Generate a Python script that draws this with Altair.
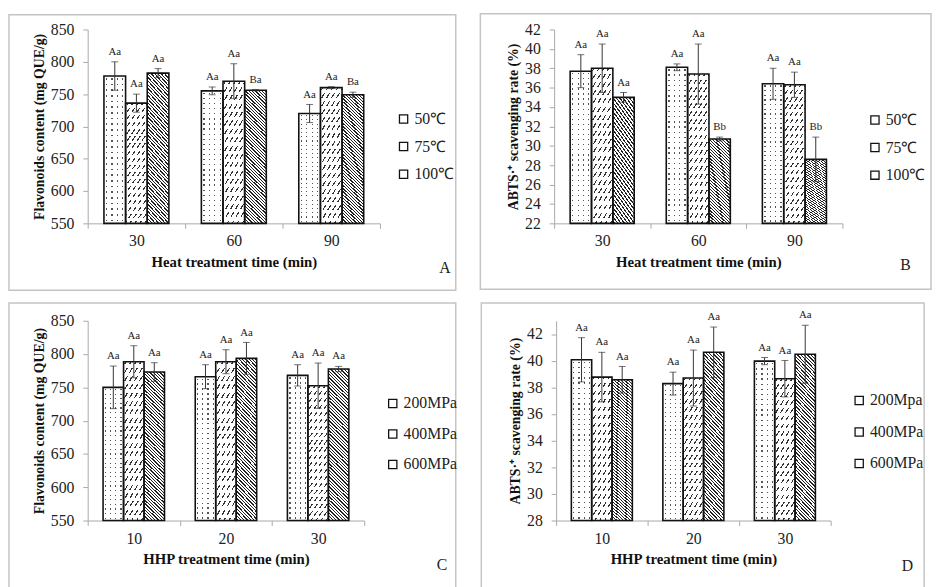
import altair as alt
import pandas as pd

SERIF = "'Liberation Serif', 'Times New Roman', serif"
CLEAR = "rgba(255,255,255,0)"

# ---------------- data ----------------
times_heat = ["30", "60", "90"]
times_hhp = ["10", "20", "30"]
temps = ["50℃", "75℃", "100℃"]
press_c = ["200MPa", "400MPa", "600MPa"]
press_d = ["200Mpa", "400MPa", "600MPa"]

# values are listed group by group (time), series in legend order
a_mean = [778, 736, 782.5, 755, 770, 756, 720, 760, 749]
a_err = [22, 14, 7, 6, 27, 1, 14, 1.5, 4]
a_lab = ["Aa", "Aa", "Aa", "Aa", "Aa", "Ba", "Aa", "Aa", "Ba"]

b_mean = [37.7, 38.0, 35.0, 38.1, 37.4, 30.7, 36.4, 36.3, 28.6]
b_err = [1.7, 2.5, 0.5, 0.35, 3.1, 0.2, 1.6, 1.3, 2.3]
b_lab = ["Aa", "Aa", "Aa", "Aa", "Aa", "Bb", "Aa", "Aa", "Bb"]

c_mean = [750, 788.5, 773, 766, 788.5, 793.5, 768, 752.5, 777.5]
c_err = [32, 24, 14, 18, 18, 24, 16, 34, 4]
c_lab = ["Aa"] * 9

d_mean = [40.07, 38.77, 38.57, 38.28, 38.7, 40.63, 39.97, 38.65, 40.48]
d_err = [1.66, 1.86, 1.0, 0.86, 2.1, 1.9, 0.27, 1.37, 2.18]
d_lab = ["Aa"] * 9


# ---------------- pattern fills (gradients used as hatching) ----------------
def band_stops(n, frac, on, off):
    stops = [{"offset": 0, "color": off}]
    for i in range(n):
        lo = round((i + 0.5 - frac / 2) / n, 5)
        hi = round((i + 0.5 + frac / 2) / n, 5)
        stops += [{"offset": lo, "color": off}, {"offset": lo, "color": on},
                  {"offset": hi, "color": on}, {"offset": hi, "color": off}]
    stops.append({"offset": 1, "color": off})
    return stops


def grad(x1, y1, x2, y2, stops):
    return {"gradient": "linear", "x1": round(x1, 5), "y1": round(y1, 5),
            "x2": round(x2, 5), "y2": round(y2, 5), "stops": stops}


def diag(h, w, slope, hsp, frac, color, back=False):
    a = slope * w / h
    k = (1 + a) / (1 + a * a)
    n = max(1, round(h * (1 + a) / (hsp * slope)))
    st = band_stops(n, frac, color, "white")
    if back:
        return grad(1, 0, 1 - a * k, k, st)
    return grad(0, 0, a * k, k, st)


def fills_for(idx, h, w):
    if idx == 0:  # dotted
        return [grad(0, 0, 1, 0, band_stops(4, 0.22, "#555555", "white")),
                grad(0, 0, 0, 1, band_stops(max(1, round(h / 5)), 0.26, CLEAR, "white"))]
    if idx == 1:  # short forward hatch in rows
        return [diag(h, w, 1.6, 5.0, 0.26, "#333333"),
                grad(0, 0, 0, 1, band_stops(max(1, round(h / 8)), 0.4, "white", CLEAR))]
    return [diag(h, w, 1.0, 3.4, 0.4, "#222222", back=True)]


def panel(times, series, means, errs, labs, ymin, ymax, yvals, W, H,
          ytitle, xtitle, letter, box, leg, letter_xy):
    rows = []
    for gi, t in enumerate(times):
        for si, s in enumerate(series):
            k = gi * 3 + si
            rows.append(dict(time=t, series=s, mean=means[k],
                             lo=means[k] - errs[k], hi=means[k] + errs[k], label=labs[k]))
    df = pd.DataFrame(rows)
    base = alt.Chart(df)
    bw = W / 3 / 4.5

    xax = alt.Axis(title=xtitle, labelAngle=0, tickBand="extent", tickSize=5,
                   domainColor="#a8a8a8", tickColor="#a8a8a8", labelFont=SERIF,
                   labelFontSize=16, labelColor="#222222", labelPadding=5,
                   titleFont=SERIF, titleFontSize=15, titleFontWeight="bold",
                   titleColor="#111111", titlePadding=6)
    yax = alt.Axis(title=ytitle, values=yvals, tickSize=5, grid=False,
                   domainColor="#a8a8a8", tickColor="#a8a8a8", labelFont=SERIF,
                   labelFontSize=16, labelColor="#222222", labelPadding=9,
                   titleFont=SERIF, titleFontSize=14, titleFontWeight="bold",
                   titleColor="#111111", titlePadding=4)
    xs = alt.Scale(domain=times, paddingInner=0, paddingOuter=0)
    xos = alt.Scale(domain=series, paddingInner=0, paddingOuter=0.75)
    ys = alt.Scale(domain=[ymin, ymax], nice=False, zero=False)

    def X():
        return alt.X("time:N", scale=xs, axis=xax)

    def XO():
        return alt.XOffset("series:N", scale=xos)

    def Y(f):
        return alt.Y(f + ":Q", scale=ys, axis=yax)

    one = pd.DataFrame({"k": [0]})
    border = alt.Chart(one).mark_rect(fillOpacity=0, stroke="#c4c4c4", strokeWidth=1.5).encode(
        x=alt.value(box[0]), x2=alt.value(W + box[1]),
        y=alt.value(box[2]), y2=alt.value(H + box[3]))

    layers = [border]
    for si, s in enumerate(series):
        vals = [means[gi * 3 + si] for gi in range(3)]
        h = sum((v - ymin) / (ymax - ymin) * H for v in vals) / 3
        for f in fills_for(si, h, bw):
            layers.append(
                base.transform_filter(alt.FieldEqualPredicate(field="series", equal=s))
                .mark_bar(fill=f, strokeWidth=0)
                .encode(x=X(), xOffset=XO(), y=Y("mean"), y2=alt.datum(ymin)))

    outline = base.mark_bar(fill="transparent", strokeWidth=1.6).encode(
        x=X(), xOffset=XO(), y=Y("mean"), y2=alt.datum(ymin),
        stroke=alt.Stroke("series:N",
                          scale=alt.Scale(domain=series, range=["#111111"] * 3),
                          legend=alt.Legend(orient="none", legendX=leg[0], legendY=leg[1],
                                            title=None, symbolType="square", symbolSize=70,
                                            symbolFillColor="white", symbolStrokeWidth=1.3,
                                            labelFont=SERIF, labelFontSize=16,
                                            labelColor="#222222", rowPadding=leg[2],
                                            padding=0, labelOffset=3)))
    layers.append(outline)

    layers.append(base.mark_rule(color="#333333", strokeWidth=1).encode(
        x=X(), xOffset=XO(), y=Y("lo"), y2="hi:Q"))
    for f in ["hi", "lo"]:
        layers.append(base.mark_tick(color="#333333", size=7, thickness=1).encode(
            x=X(), xOffset=XO(), y=Y(f)))
    layers.append(base.mark_text(font=SERIF, fontSize=11, color="#222222",
                                 baseline="bottom", dy=-5).encode(
        x=X(), xOffset=XO(), y=Y("hi"), text="label:N"))
    layers.append(alt.Chart(one).mark_text(font=SERIF, fontSize=16, color="#222222",
                                           align="center", baseline="middle").encode(
        x=alt.value(letter_xy[0]), y=alt.value(letter_xy[1]), text=alt.value(letter)))

    return alt.layer(*layers).properties(width=W, height=H)


flav_title = "Flavonoids content (mg QUE/g)"
abts_title = "ABTS·⁺ scavenging rate (%)"

A = panel(times_heat, temps, a_mean, a_err, a_lab, 550, 850, list(range(550, 851, 50)),
          297, 197, flav_title, "Heat treatment time (min)", "A",
          (-80, 77, -15, 68), (313, 83, 12), (363, 242))
B = panel(times_heat, temps, b_mean, b_err, b_lab, 22, 42, list(range(22, 43, 2)),
          293, 197, abts_title, "Heat treatment time (min)", "B",
          (-75, 90, -16, 67), (318, 84, 12), (357, 239))
C = panel(times_hhp, press_c, c_mean, c_err, c_lab, 550, 850, list(range(550, 851, 50)),
          281, 203, flav_title, "HHP treatment time (min)", "C",
          (-80, 93, -18, 80), (302, 76, 15), (360, 248))
D = panel(times_hhp, press_d, d_mean, d_err, d_lab, 28, 43, list(range(28, 43, 2)),
          279, 203, abts_title, "HHP treatment time (min)", "D",
          (-76, 95, -18, 80), (300, 73, 16), (357, 249))


def indep(c):
    return (c.resolve_scale(stroke="independent", xOffset="independent",
                            x="independent", y="independent")
            .resolve_legend(stroke="independent"))


top = indep(alt.hconcat(A, B, spacing=23))
bottom = indep(alt.hconcat(C, D, spacing=23))

chart = (indep(alt.vconcat(top, bottom, spacing=11))
         .properties(padding=0, background="white")
         .configure(font=SERIF)
         .configure_view(strokeWidth=0))

chart.save("out.html", embed_options={"renderer": "svg", "actions": False})
